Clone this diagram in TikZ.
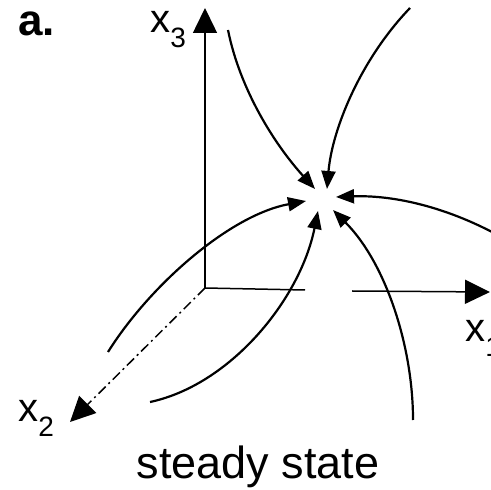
\documentclass[tikz,border=0pt]{standalone}
\usepackage{fontspec}
\setmainfont{Liberation Sans}
\usetikzlibrary{arrows.meta}
\tikzset{
  axis/.style={line width=0.75pt,-{Triangle[length=12.5pt,width=12pt]}},
  axisplain/.style={line width=0.75pt},
  flow/.style={line width=1.1pt,-{Triangle[length=9pt,width=7pt]}},
  lbl/.style={inner sep=0pt,anchor=base west,font=\fontsize{20}{20}\selectfont},
  sub/.style={}
}
\newcommand{\subsc}[1]{\raisebox{-7.5pt}{\fontsize{14}{14}\selectfont #1}}
\begin{document}
\begin{tikzpicture}[x=0.5pt,y=-0.5pt]
\useasboundingbox (0,0) rectangle (491,490);
% coordinates
\coordinate (O) at (205,288);
\coordinate (x3tip) at (205,8);
\coordinate (x2tip) at (70,422);
\coordinate (x1tip) at (490,292);
\coordinate (gapA) at (305,290);
\coordinate (gapB) at (352,291);
\coordinate (s1) at (228,30);
\coordinate (e1) at (315,189);
\coordinate (s2) at (410,8);
\coordinate (e2) at (327,189);
\coordinate (s3) at (492,232);
\coordinate (e3) at (336,197);
\coordinate (s4) at (108,352);
\coordinate (e4) at (306,201);
\coordinate (s5) at (150,402);
\coordinate (e5) at (318,211);
\coordinate (s6) at (413,420);
\coordinate (e6) at (333,210);
% axes
\draw[axis] (O) -- (x3tip);
\draw[axisplain] (O) -- (gapA);
\draw[axis] (gapB) -- (x1tip);
\draw[axis,dash pattern=on 5pt off 2pt on 1pt off 2pt] (O) -- (x2tip);
% flow curves
\draw[flow] (s1) .. controls (240,90) and (275,145) .. (e1);
\draw[flow] (s2) .. controls (360,60) and (332,130) .. (e2);
\draw[flow] (s3) .. controls (440,205) and (390,195) .. (e3);
\draw[flow] (s4) .. controls (150,285) and (230,215) .. (e4);
\draw[flow] (s5) .. controls (230,385) and (300,300) .. (e5);
\draw[flow] (s6) .. controls (413,345) and (385,262) .. (e6);
% labels
\node[lbl,font=\fontsize{22}{22}\selectfont\bfseries] (a) at (18,36) {a.};
\node[lbl] (lx3) at (150,33) {x\subsc{3}};
\node[lbl] (lx2) at (18,422) {x\subsc{2}};
\node[lbl] (lx1) at (465,342) {x\subsc{1}};
\node[inner sep=0pt,anchor=base,font=\fontsize{22.5}{22.5}\selectfont] (title) at (258,478) {steady state};
\end{tikzpicture}
\end{document}
